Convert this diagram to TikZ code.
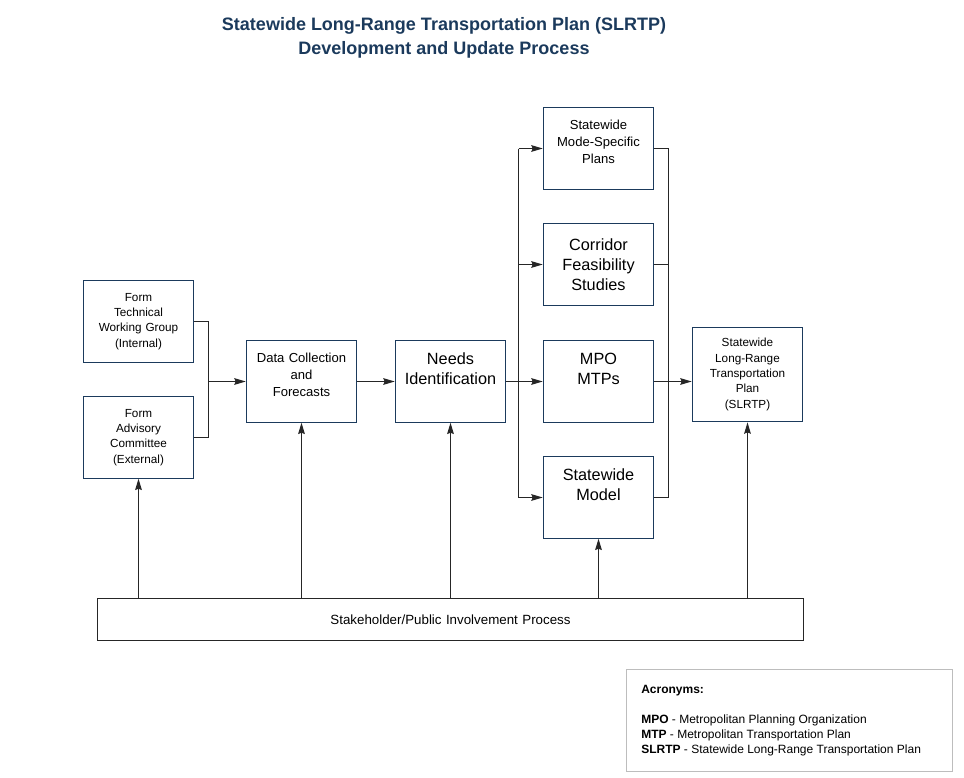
\documentclass[tikz,border=0pt]{standalone}
\usepackage{fontspec}
\setmainfont{Liberation Sans}
\usetikzlibrary{arrows.meta,positioning}
\definecolor{slnavy}{HTML}{1B3A5C}
\definecolor{acrgray}{HTML}{BDBDBD}

\begin{document}
\begin{tikzpicture}[
	x=0.75pt, y=-0.75pt,
	box/.style={draw=slnavy, line width=0.8pt, minimum width=83pt, minimum height=61pt, inner sep=0pt, align=center, text width=80pt},
	smalltext/.style={font=\fontsize{8.8}{11.5}\selectfont},
	midtext/.style={font=\fontsize{9.8}{12.75}\selectfont},
	bigtext/.style={font=\fontsize{12.2}{15}\selectfont},
	wire/.style={line width=0.8pt, black!85},
	connection/.style={wire, -{Stealth[length=8.5pt,width=5pt,inset=1pt]}}
	]
	
	\useasboundingbox (0,0) rectangle (964,778);
	
	% Title
	\node[font=\bfseries\fontsize{13.5}{18}\selectfont, text=slnavy, align=center] (title) at (444,38)
		{Statewide Long-Range Transportation Plan (SLRTP)\\Development and Update Process};
	
	% Working groups
	\node[box, smalltext] (twg) at (138.5,321.5) {Form\\Technical\\Working Group\\(Internal)};
	\node[box, smalltext] (ac) at (138.5,437.5) {Form\\Advisory\\Committee\\(External)};
	
	% Main chain
	\node[box, midtext] (dc) at (301.5,381.5) {Data Collection\\and\\Forecasts\\[-3pt]\mbox{}};
	\node[box, bigtext] (needs) at (450.5,381.5) {Needs\\Identification\\[3.75pt]\mbox{}};
	
	% Plans column
	\node[box, midtext] (smsp) at (598.5,148.5) {Statewide\\Mode-Specific\\Plans\\[-3pt]\mbox{}};
	\node[box, bigtext] (corridor) at (598.5,264.5) {Corridor\\Feasibility\\Studies};
	\node[box, bigtext] (mpo) at (598.5,381.5) {MPO\\MTPs\\[3.75pt]\mbox{}};
	\node[box, bigtext] (model) at (598.5,497.5) {Statewide\\Model\\[3.75pt]\mbox{}};
	
	% Final plan
	\node[box, smalltext, minimum height=71pt] (slrtp) at (747.5,374.5)
		{Statewide\\Long-Range\\Transportation\\Plan\\(SLRTP)};
	
	% Stakeholder bar
	\node[box, draw=black!85, minimum width=529.5pt, minimum height=31.5pt, text width=520pt,
		font=\fontsize{10}{12}\selectfont] (public) at (450.5,619.5) {Stakeholder/Public Involvement Process};
	
	% Acronyms
	\node[draw=acrgray, line width=0.8pt, minimum width=244pt, minimum height=76pt] (acrbox) at (789.5,720.5) {};
	\node[anchor=north west, align=left, inner sep=0pt, font=\fontsize{9}{11.25}\selectfont] (acronyms) at (641,685)
		{\textbf{Acronyms:}\\[11.25pt]
		\textbf{MPO} - Metropolitan Planning Organization\\
		\textbf{MTP} - Metropolitan Transportation Plan\\
		\textbf{SLRTP} - Statewide Long-Range Transportation Plan};
	
	% Working groups into data collection
	\coordinate (join) at (208.5,381.5);
	\draw[wire] (twg) -| (join);
	\draw[wire] (ac) -| (join);
	\draw[connection] (join) -- (dc);
	\draw[connection] (dc) -- (needs);
	
	% Needs split to plans
	\coordinate (split) at (518.5,381.5);
	\draw[connection] (needs) -- (mpo);
	\draw[wire] (split |- smsp) -- (split |- model);
	\foreach \p in {smsp, corridor, model}
		\draw[connection] (split |- \p) -- (\p);
	
	% Plans merge into SLRTP
	\coordinate (merge) at (668.5,381.5);
	\draw[wire] (smsp) -| (merge |- model) -- (model);
	\draw[wire] (corridor) -- (corridor -| merge);
	\draw[connection] (mpo) -- (mpo -| slrtp.west);
	
	% Stakeholder feedback
	\foreach \n in {ac, dc, needs, model, slrtp}
		\draw[connection] (public.north -| \n) -- (\n);
	
\end{tikzpicture}
\end{document}
